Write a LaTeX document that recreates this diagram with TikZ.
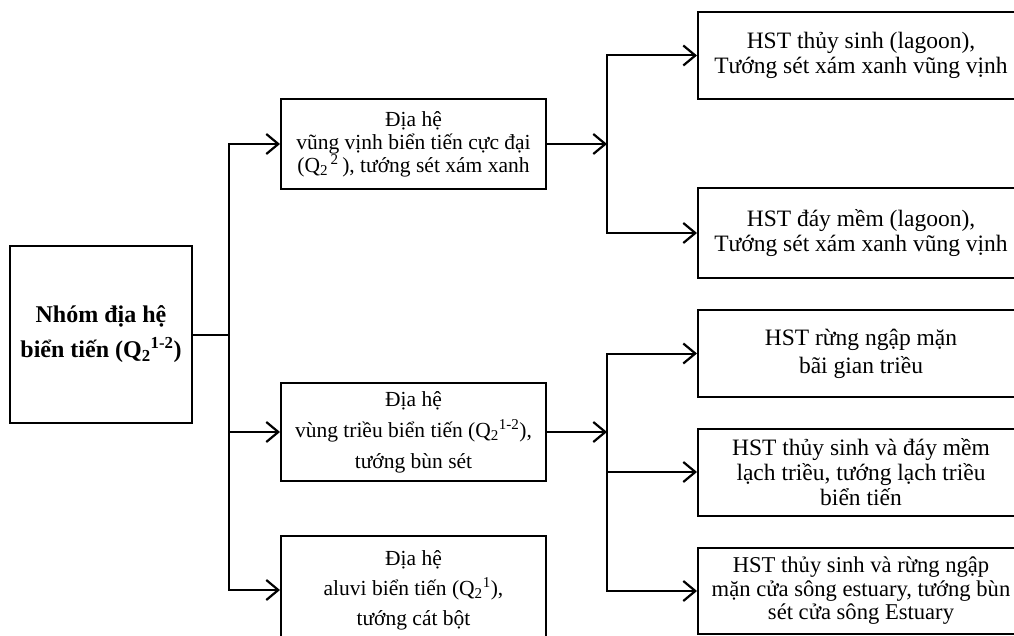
\documentclass[tikz,border=0pt]{standalone}
\usepackage{fontspec}
\setmainfont{Liberation Serif}
\usetikzlibrary{arrows.meta}

\begin{document}
\begin{tikzpicture}[x=1pt,y=-1pt,
    box/.style={draw=black, line width=2pt, align=center, inner sep=0pt},
    midbox/.style={box, minimum width=265pt},
    rbox/.style={box, minimum width=326pt},
    link/.style={line width=2pt},
    arr/.style={line width=2pt, -{Straight Barb[length=12pt,width=20pt,line width=2.2pt]}}]

    % Frame
    \useasboundingbox (0,0) rectangle (1014,636);

    % Root box
    \node[box, minimum width=182pt, minimum height=177pt, font=\bfseries\fontsize{24}{35}\selectfont] (root) at (101,334.5)
        {Nhóm địa hệ\\biển tiến (Q\textsubscript{2}\textsuperscript{1-2})};

    % Middle boxes
    \node[midbox, minimum height=90pt, font=\fontsize{21.5}{23}\selectfont] (m1) at (413.5,144)
        {Địa hệ\\vũng vịnh biển tiến cực đại\\(Q\textsubscript{2}\textsuperscript{\,2}\,), tướng sét xám xanh};
    \node[midbox, minimum height=98pt, font=\fontsize{21.5}{31}\selectfont] (m2) at (413.5,432)
        {Địa hệ\\vùng triều biển tiến (Q\textsubscript{2}\textsuperscript{1-2}),\\tướng bùn sét};
    \node[midbox, minimum height=108pt, font=\fontsize{21.5}{30}\selectfont] (m3) at (413.5,590)
        {Địa hệ\\aluvi biển tiến (Q\textsubscript{2}\textsuperscript{1}),\\tướng cát bột};

    % Right boxes
    \node[rbox, minimum height=87pt, font=\fontsize{23.5}{25}\selectfont] (r1) at (861,55.5)
        {HST thủy sinh (lagoon),\\Tướng sét xám xanh vũng vịnh};
    \node[rbox, minimum height=90pt, font=\fontsize{23.5}{25}\selectfont] (r2) at (861,233)
        {HST đáy mềm (lagoon),\\Tướng sét xám xanh vũng vịnh};
    \node[rbox, minimum height=87pt, font=\fontsize{23.5}{28}\selectfont] (r3) at (861,353.5)
        {HST rừng ngập mặn\\bãi gian triều};
    \node[rbox, minimum height=87pt, font=\fontsize{23.5}{25}\selectfont] (r4) at (861,472)
        {HST thủy sinh và đáy mềm\\lạch triều, tướng lạch triều\\biển tiến};
    \node[rbox, minimum height=86pt, font=\fontsize{22.6}{23.5}\selectfont] (r5) at (861,591)
        {HST thủy sinh và rừng ngập\\mặn cửa sông estuary, tướng bùn\\sét cửa sông Estuary};

    % Trunks
    \coordinate (tL) at (229,0);
    \coordinate (tR) at (607,0);

    % Root to middle boxes
    \draw[link] (root.east) -- (tL |- root.east);
    \foreach \m in {m1,m2,m3} \draw[arr] (tL |- root.east) |- (\m.west);

    % Middle boxes to right boxes
    \draw[arr] (m1.east) -- (tR |- m1.east);
    \foreach \r in {r1,r2} \draw[arr] (tR |- m1.east) |- (\r.west);
    \draw[arr] (m2.east) -- (tR |- m2.east);
    \foreach \r in {r3,r4,r5} \draw[arr] (tR |- m2.east) |- (\r.west);

\end{tikzpicture}
\end{document}
